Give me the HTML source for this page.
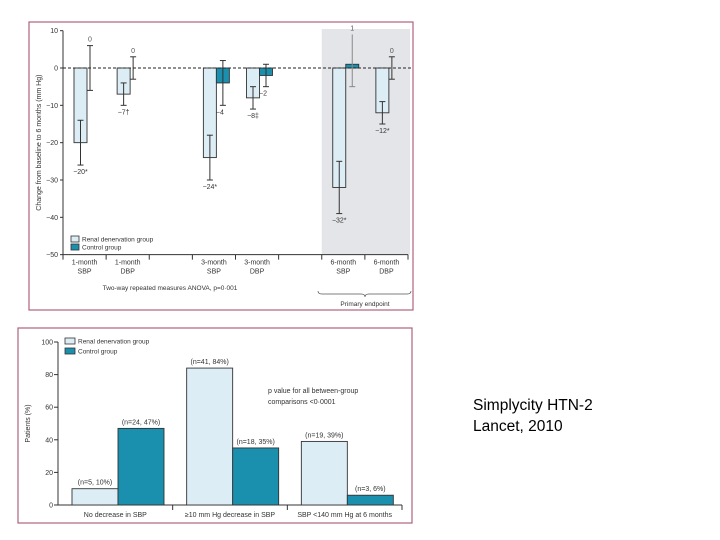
<!DOCTYPE html>
<html><head><meta charset="utf-8"><style>
body{margin:0;background:#fff;width:720px;height:540px;overflow:hidden;font-family:"Liberation Sans",sans-serif}
svg{position:absolute;left:0;top:0}
.note{position:absolute;left:473px;font-family:"Liberation Sans",sans-serif;font-size:15.5px;color:#000}
</style></head><body>
<svg id="chart" width="720" height="540" font-family="Liberation Sans, sans-serif"></svg>
<div class="note" style="top:397px">Simplycity HTN-2</div>
<div class="note" style="top:418px">Lancet, 2010</div>
<script>
// top chart data
const topCats = ["1-month|SBP","1-month|DBP","","3-month|SBP","3-month|DBP","","6-month|SBP","6-month|DBP"];
const renalVals = [-20,-7,null,-24,-8,null,-32,-12];
const renalLo = [-26,-10,null,-30,-11,null,-39,-15];
const renalHi = [-14,-4,null,-18,-5,null,-25,-9];
const renalLabels = ["−20*","−7†","","−24*","−8‡","","−32*","−12*"];
const ctrlVals = [0,0,null,-4,-2,null,1,0];
const ctrlLo = [-6,-3,null,-10,-5,null,-5,-3];
const ctrlHi = [6,3,null,2,1,null,9,3];
const ctrlLabels = ["0","0","","−4","−2","","1","0"];
const topTicks = [10,0,-10,-20,-30,-40,-50];
// bottom chart data
const botCats = ["No decrease in SBP","≥10 mm Hg decrease in SBP","SBP <140 mm Hg at 6 months"];
const botRenal = [10,84,39];
const botCtrl = [47,35,6];
const botRenalLabels = ["(n=5, 10%)","(n=41, 84%)","(n=19, 39%)"];
const botCtrlLabels = ["(n=24, 47%)","(n=18, 35%)","(n=3, 6%)"];
const botTicks = [0,20,40,60,80,100];

const svg=document.getElementById('chart');
const NS='http://www.w3.org/2000/svg';
function mk(tag,attrs,parent){const e=document.createElementNS(NS,tag);for(const k in attrs)e.setAttribute(k,attrs[k]);(parent||svg).appendChild(e);return e;}
function txt(x,y,s,size,anchor,fill){const t=mk('text',{x:x,y:y,'font-size':size,'text-anchor':anchor||'middle',fill:fill||'#333'});t.textContent=s;return t;}
const RF='#dcedf5',CF='#1a8fae',ST='#333';

// ---- top chart ----
const fr1=mk('rect',{x:29,y:22,width:384,height:288,fill:'none',stroke:'#b06080','stroke-width':1.2});

const tx0=63,tx1=408,ty=v=>68-(v*3.733);
const gw=(tx1-tx0)/topCats.length;
const shade=mk('rect',{x:tx0+6*gw,y:29,width:tx1-(tx0+6*gw)+2,height:ty(-50)-29,fill:'#e3e5e8'});

mk('line',{x1:tx0,y1:ty(10),x2:tx0,y2:ty(-50),stroke:ST});
topTicks.forEach(v=>{mk('line',{x1:tx0-3,y1:ty(v),x2:tx0,y2:ty(v),stroke:ST});
 const t=txt(tx0-5,ty(v)+2.5,v<0?'−'+(-v):String(v),7,'end');});
const yt=txt(0,0,'Change from baseline to 6 months (mm Hg)',7,'middle');
yt.setAttribute('transform','translate(41,'+ty(-20)+') rotate(-90)');

mk('line',{x1:tx0,y1:ty(-50),x2:tx1,y2:ty(-50),stroke:ST});
for(let i=0;i<=topCats.length;i++)mk('line',{x1:tx0+i*gw,y1:ty(-50),x2:tx0+i*gw,y2:ty(-50)+5,stroke:ST});
const bw=13;
topCats.forEach((c,i)=>{
 const gx=tx0+i*gw;
 if(c){const p=c.split('|');txt(gx+gw/2,ty(-50)+10,p[0],7);txt(gx+gw/2,ty(-50)+19,p[1],7);}
 if(renalVals[i]===null)return;
 const rx=gx+11,cx=rx+bw;
 const r=mk('rect',{x:rx,y:ty(0),width:bw,height:ty(renalVals[i])-ty(0),fill:RF,stroke:ST,'stroke-width':0.9});
 
 const ex=rx+bw/2;
 mk('line',{x1:ex,y1:ty(renalHi[i]),x2:ex,y2:ty(renalLo[i]),stroke:ST});
 mk('line',{x1:ex-3,y1:ty(renalHi[i]),x2:ex+3,y2:ty(renalHi[i]),stroke:ST});
 mk('line',{x1:ex-3,y1:ty(renalLo[i]),x2:ex+3,y2:ty(renalLo[i]),stroke:ST});
 txt(ex,ty(renalLo[i])+9,renalLabels[i],7);
 const cv=ctrlVals[i];
 if(cv!==0){const c2=mk('rect',{x:cx,y:Math.min(ty(0),ty(cv)),width:bw,height:Math.abs(ty(cv)-ty(0)),fill:CF,stroke:ST,'stroke-width':0.9});
  }
 const cex=cv===0?cx+3:cx+bw/2;
 const col=i==6?'#888':ST;
 mk('line',{x1:cex,y1:ty(ctrlHi[i]),x2:cex,y2:ty(ctrlLo[i]),stroke:col});
 if(i!=6)mk('line',{x1:cex-3,y1:ty(ctrlHi[i]),x2:cex+3,y2:ty(ctrlHi[i]),stroke:ST});
 mk('line',{x1:cex-3,y1:ty(ctrlLo[i]),x2:cex+3,y2:ty(ctrlLo[i]),stroke:col});
 if(cv<0)txt(cex-3,ty(ctrlLo[i])+9,ctrlLabels[i],7);
 else txt(cex,ty(ctrlHi[i])-4,ctrlLabels[i],7,'middle','#555');
});
mk('line',{x1:tx0,y1:ty(0),x2:tx1+3,y2:ty(0),stroke:'#222','stroke-dasharray':'3,2'});
// legend top
mk('rect',{x:71,y:236,width:8,height:6,fill:RF,stroke:ST,'stroke-width':0.8});
txt(82,241.5,'Renal denervation group',6.5,'start');
mk('rect',{x:71,y:244,width:8,height:6,fill:CF,stroke:ST,'stroke-width':0.8});
txt(82,249.5,'Control group',6.5,'start');
txt(170,290,'Two-way repeated measures ANOVA, p=0·001',6.5);
mk('path',{d:'M318,291 q0,3 4,3 h39 q4,0 4,3 q0,-3 4,-3 h38 q4,0 4,-3',fill:'none',stroke:'#555','stroke-width':0.7});
txt(365,306,'Primary endpoint',6.5);

// ---- bottom chart ----
const fr2=mk('rect',{x:18,y:328,width:394,height:195,fill:'none',stroke:'#b06080','stroke-width':1.2});

const bx0=58,bx1=402,by=v=>505-v*1.63;
mk('line',{x1:bx0,y1:by(100),x2:bx0,y2:by(0),stroke:ST});
mk('line',{x1:bx0,y1:by(0),x2:bx1,y2:by(0),stroke:ST});
botTicks.forEach(v=>{mk('line',{x1:bx0-4,y1:by(v),x2:bx0,y2:by(v),stroke:ST});txt(bx0-5,by(v)+2.5,String(v),7,'end');});
const yt2=txt(0,0,'Patients (%)',7,'middle');
yt2.setAttribute('transform','translate(30,'+by(50)+') rotate(-90)');

const bg=(bx1-bx0)/3,bbw=46;
botCats.forEach((c,i)=>{
 const gx=bx0+i*bg;
 mk('line',{x1:gx+bg,y1:by(0),x2:gx+bg,y2:by(0)+5,stroke:ST});
 txt(gx+bg/2,by(0)+12,c,7);
 const rx=gx+14,cx=rx+bbw;
 const r=mk('rect',{x:rx,y:by(botRenal[i]),width:bbw,height:by(0)-by(botRenal[i]),fill:RF,stroke:ST,'stroke-width':0.9});
 
 const c2=mk('rect',{x:cx,y:by(botCtrl[i]),width:bbw,height:by(0)-by(botCtrl[i]),fill:CF,stroke:ST,'stroke-width':0.9});
 
 txt(rx+bbw/2,by(botRenal[i])-4,botRenalLabels[i],7);
 txt(cx+bbw/2,by(botCtrl[i])-4,botCtrlLabels[i],7);
});
mk('rect',{x:65,y:338,width:10,height:6,fill:RF,stroke:ST,'stroke-width':0.8});
txt(78,343.5,'Renal denervation group',6.5,'start');
mk('rect',{x:65,y:348,width:10,height:6,fill:CF,stroke:ST,'stroke-width':0.8});
txt(78,353.5,'Control group',6.5,'start');
txt(268,393,'p value for all between-group',7,'start');
txt(268,404,'comparisons <0·0001',7,'start');
</script>
</body></html>
